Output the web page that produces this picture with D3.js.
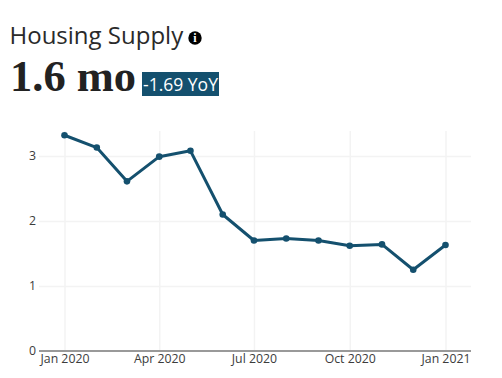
<!DOCTYPE html>
<html>
<head>
<meta charset="utf-8">
<script src="https://cdn.jsdelivr.net/npm/d3@7"></script>
<style>
  html, body { margin: 0; padding: 0; background: #fff; }
  svg { display: block; }
</style>
</head>
<body>
<svg id="chart"></svg>
<script>
const months = ["2020-01-01", "2020-02-01", "2020-03-01", "2020-04-01", "2020-05-01", "2020-06-01", "2020-07-01",
  "2020-08-01", "2020-09-01", "2020-10-01", "2020-11-01", "2020-12-01", "2021-01-01"];
const supply = [3.32, 3.13, 2.61, 2.99, 3.08, 2.10, 1.70, 1.73, 1.70, 1.62, 1.64, 1.25, 1.63];
const xTicks = ["2020-01-01", "2020-04-01", "2020-07-01", "2020-10-01", "2021-01-01"];
const yTicks = [0, 1, 2, 3];
const titleText = "Housing Supply";
const valueText = "1.6 mo";
const badgeText = "-1.69 YoY";

const LINE = "#14506e"; // line, markers and badge
const GRID = "#f3f3f3";
const TICK = "#3c3c3c";
const SANS = "'Open Sans', sans-serif";

const totalW = 502;
const totalH = 378;
const plot = { left: 39, right: 471, top: 131, bottom: 351 };
const parse = d3.utcParse("%Y-%m-%d");

const svg = d3.select("#chart").attr("width", totalW).attr("height", totalH);

// Header
svg.append("text").attr("x", 9.5).attr("y", 44)
  .attr("font-family", SANS).attr("font-size", 24).attr("fill", "#2a2a2a")
  .text(titleText);

// Info icon
const info = svg.append("g").attr("transform", "translate(195,38)");
info.append("circle").attr("r", 6.7).attr("fill", "#000");
info.append("text").attr("y", 4.2).attr("text-anchor", "middle")
  .attr("font-family", "'Liberation Serif', serif").attr("font-weight", 700)
  .attr("font-size", 12).attr("fill", "#fff").text("i");

svg.append("text").attr("x", 10).attr("y", 91)
  .attr("font-family", "'Liberation Serif', serif").attr("font-weight", 700)
  .attr("font-size", 44.5).attr("fill", "#222")
  .text(valueText);

// YoY badge
svg.append("rect").attr("x", 142).attr("y", 72).attr("width", 77).attr("height", 24).attr("fill", LINE);
svg.append("text").attr("x", 180.5).attr("y", 91).attr("text-anchor", "middle")
  .attr("font-family", SANS).attr("font-weight", 500).attr("font-size", 17.5).attr("fill", "#fff")
  .text(badgeText);

// Scales: Jan 2020 sits 25px inside the plot's left edge
const xScale = d3.scaleUtc()
  .domain([parse(months[0]), parse(months[months.length - 1])])
  .range([64.5, 445.5]);
const yScale = d3.scaleLinear().domain([0, 3.385]).range([plot.bottom, plot.top]);

// Grid lines
const yGrid = svg.append("g").attr("transform", `translate(${plot.left},0)`)
  .call(d3.axisLeft(yScale).tickValues(yTicks.slice(1)).tickSize(-(plot.right - plot.left)).tickFormat(""));
yGrid.select(".domain").remove();
yGrid.selectAll("line").attr("stroke", GRID).attr("stroke-width", 1.5);

const xGrid = svg.append("g").attr("transform", `translate(0,${plot.bottom})`)
  .call(d3.axisBottom(xScale).tickValues(xTicks.map(parse)).tickSize(-(plot.bottom - plot.top)).tickFormat(""));
xGrid.select(".domain").remove();
xGrid.selectAll("line").attr("stroke", GRID).attr("stroke-width", 1.5);

// Y axis
const yAxis = svg.append("g").attr("transform", `translate(${plot.left},0)`)
  .call(d3.axisLeft(yScale).tickValues(yTicks).tickSize(0).tickPadding(3).tickFormat(d3.format("d")));
yAxis.select(".domain").remove();
yAxis.selectAll("text").attr("font-family", SANS).attr("font-size", 12.3).attr("fill", TICK);

// X axis
const xAxis = svg.append("g").attr("transform", `translate(0,${plot.bottom})`)
  .call(d3.axisBottom(xScale).tickValues(xTicks.map(parse)).tickSize(0).tickPadding(3).tickFormat(d3.utcFormat("%b %Y")));
xAxis.select(".domain").remove();
xAxis.selectAll("text").attr("font-family", SANS).attr("font-size", 12.3).attr("fill", TICK);

svg.append("line")
  .attr("x1", plot.left).attr("x2", plot.right)
  .attr("y1", yScale(0)).attr("y2", yScale(0))
  .attr("stroke", "#999").attr("stroke-width", 2);

// Series
const line = d3.line()
  .x((d, i) => xScale(parse(months[i])))
  .y((d) => yScale(d));

svg.append("path").datum(supply)
  .attr("d", line)
  .attr("fill", "none")
  .attr("stroke", LINE)
  .attr("stroke-width", 3)
  .attr("stroke-linejoin", "round");

svg.append("g").selectAll("circle").data(supply).join("circle")
  .attr("cx", (d, i) => xScale(parse(months[i])))
  .attr("cy", (d) => yScale(d))
  .attr("r", 3.3)
  .attr("fill", LINE);
</script>
</body>
</html>
